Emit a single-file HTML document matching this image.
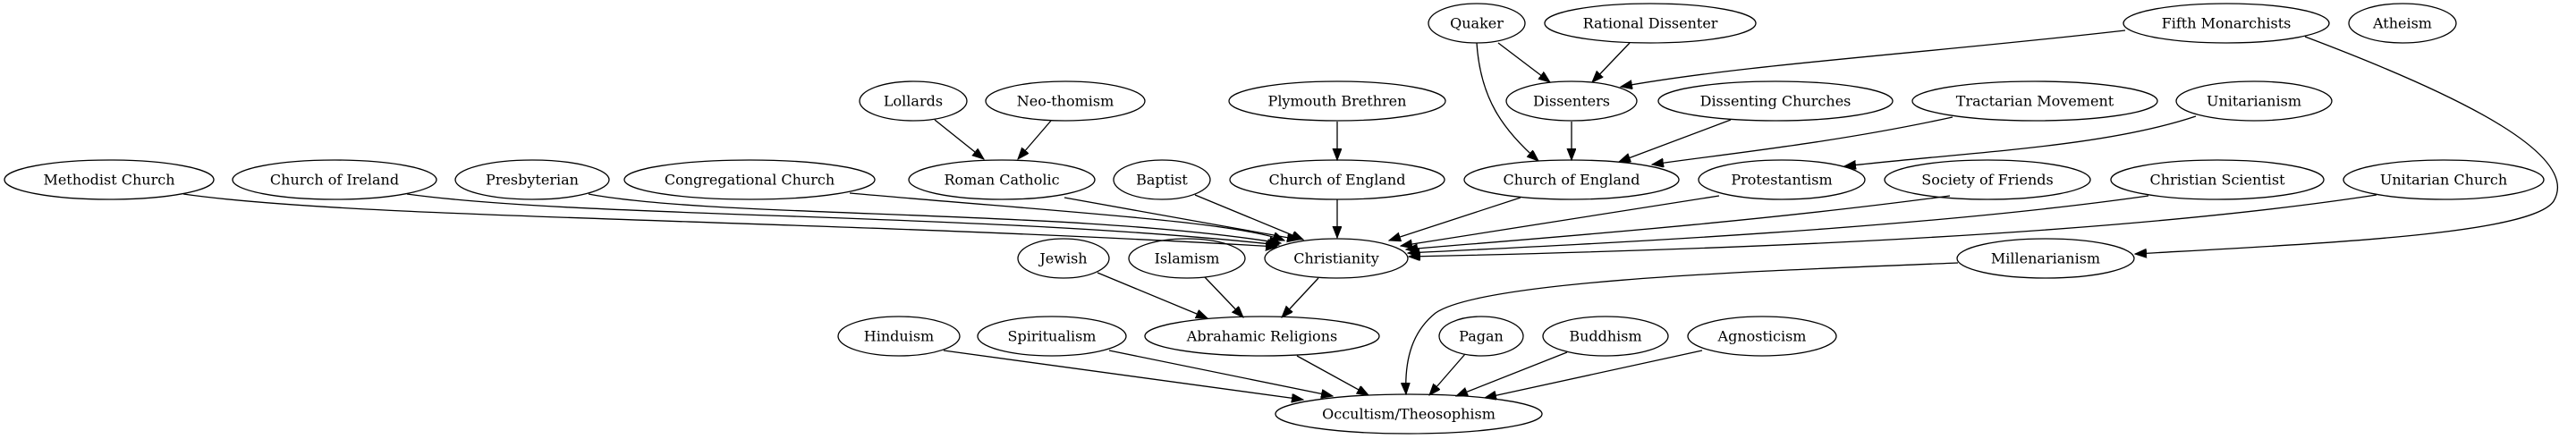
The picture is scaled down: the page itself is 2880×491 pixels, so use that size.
<!DOCTYPE html>
<html><head><meta charset="utf-8"><style>
html,body{margin:0;padding:0;background:#fff;}
svg{display:block;}
text{font-family:"DejaVu Serif","Liberation Serif",serif;font-size:16px;fill:#000;text-anchor:middle;dominant-baseline:central;}
ellipse{fill:none;stroke:#000;stroke-width:1.3;}
path{fill:none;stroke:#000;stroke-width:1.3;}
</style></head><body>
<svg width="2880" height="491" viewBox="0 0 2880 491" xmlns="http://www.w3.org/2000/svg">
<defs>
<marker id="a" markerUnits="userSpaceOnUse" markerWidth="14" markerHeight="12" refX="13" refY="5" orient="auto">
<path d="M0,0 L13,5 L0,10 Z" style="fill:#000;stroke:#000;stroke-width:1"/>
</marker>
</defs>
<g marker-end="url(#a)">
<path d="M205,217 C400,245 900,245 1428,276"/>
<path d="M455,217 C650,244 1100,238 1430,274"/>
<path d="M658,217 C800,244 1200,234 1432,272"/>
<path d="M950,216 C1200,238 1380,248 1436,269"/>
<path d="M1190,221 L1452,268"/>
<path d="M1336,218 L1457,268"/>
<path d="M1495,223 L1495,266"/>
<path d="M1700,221 L1553,269"/>
<path d="M1922,219 L1566,275"/>
<path d="M2180,219 C1950,250 1700,268 1572,279"/>
<path d="M2402,219 C2150,255 1800,272 1574,283"/>
<path d="M2657,218 C2350,265 1900,280 1575,287"/>
<path d="M1045,134 L1100,178"/>
<path d="M1175,135 L1138,178"/>
<path d="M1495,136 L1495,179"/>
<path d="M1757,136 L1757,179"/>
<path d="M1675,48 L1733,92"/>
<path d="M1822,48 L1780,92"/>
<path d="M1651,48 C1655,110 1680,145 1720,180"/>
<path d="M2376,34 C2150,60 1950,72 1812,97"/>
<path d="M2577,41 C2760,110 2885,175 2855,225 C2830,262 2600,272 2387,284"/>
<path d="M1935,134 L1810,181"/>
<path d="M2183,131 C2050,160 1930,172 1847,184"/>
<path d="M2455,130 C2350,165 2200,170 2062,186"/>
<path d="M1227,305 L1350,356"/>
<path d="M1347,310 L1390,355"/>
<path d="M1474,311 L1433,355"/>
<path d="M2189,294 C2000,302 1660,312 1605,350 C1580,370 1570,400 1572,441"/>
<path d="M1055,392 L1457,447"/>
<path d="M1240,392 L1490,443"/>
<path d="M1450,398 L1530,442"/>
<path d="M1638,396 L1598,442"/>
<path d="M1752,394 L1628,443"/>
<path d="M1903,392 L1660,445"/>
</g>
<g>
<ellipse cx="1651" cy="26" rx="54" ry="22"/><text x="1651" y="26">Quaker</text>
<ellipse cx="1845" cy="26" rx="118" ry="22"/><text x="1845" y="26">Rational Dissenter</text>
<ellipse cx="2489" cy="26" rx="115" ry="22"/><text x="2489" y="26">Fifth Monarchists</text>
<ellipse cx="2686" cy="26" rx="60" ry="22"/><text x="2686" y="26">Atheism</text>

<ellipse cx="1021" cy="113" rx="60" ry="22"/><text x="1021" y="113">Lollards</text>
<ellipse cx="1191" cy="113" rx="89" ry="22"/><text x="1191" y="113">Neo-thomism</text>
<ellipse cx="1495" cy="113" rx="121" ry="22"/><text x="1495" y="113">Plymouth Brethren</text>
<ellipse cx="1757" cy="113" rx="73" ry="22"/><text x="1757" y="113">Dissenters</text>
<ellipse cx="1985" cy="113" rx="131" ry="22"/><text x="1985" y="113">Dissenting Churches</text>
<ellipse cx="2275" cy="113" rx="137" ry="22"/><text x="2275" y="113">Tractarian Movement</text>
<ellipse cx="2520" cy="113" rx="87" ry="22"/><text x="2520" y="113">Unitarianism</text>

<ellipse cx="122" cy="201" rx="117" ry="22"/><text x="122" y="201">Methodist Church</text>
<ellipse cx="374" cy="201" rx="114" ry="22"/><text x="374" y="201">Church of Ireland</text>
<ellipse cx="595" cy="201" rx="86" ry="22"/><text x="595" y="201">Presbyterian</text>
<ellipse cx="838" cy="201" rx="140" ry="22"/><text x="838" y="201">Congregational Church</text>
<ellipse cx="1120" cy="201" rx="104" ry="22"/><text x="1120" y="201">Roman Catholic</text>
<ellipse cx="1299" cy="201" rx="54" ry="22"/><text x="1299" y="201">Baptist</text>
<ellipse cx="1495" cy="201" rx="120" ry="22"/><text x="1495" y="201">Church of England</text>
<ellipse cx="1757" cy="201" rx="120" ry="22"/><text x="1757" y="201">Church of England</text>
<ellipse cx="1992" cy="201" rx="93" ry="22"/><text x="1992" y="201">Protestantism</text>
<ellipse cx="2222" cy="201" rx="115" ry="22"/><text x="2222" y="201">Society of Friends</text>
<ellipse cx="2479" cy="201" rx="119" ry="22"/><text x="2479" y="201">Christian Scientist</text>
<ellipse cx="2732" cy="201" rx="112" ry="22"/><text x="2732" y="201">Unitarian Church</text>

<ellipse cx="1189" cy="289" rx="51" ry="22"/><text x="1189" y="289">Jewish</text>
<ellipse cx="1327" cy="289" rx="65" ry="22"/><text x="1327" y="289">Islamism</text>
<ellipse cx="1494" cy="289" rx="80" ry="22"/><text x="1494" y="289">Christianity</text>
<ellipse cx="2287" cy="289" rx="99" ry="22"/><text x="2287" y="289">Millenarianism</text>

<ellipse cx="1005" cy="376" rx="68" ry="22"/><text x="1005" y="376">Hinduism</text>
<ellipse cx="1176" cy="376" rx="83" ry="22"/><text x="1176" y="376">Spiritualism</text>
<ellipse cx="1411" cy="376" rx="131" ry="22"/><text x="1411" y="376">Abrahamic Religions</text>
<ellipse cx="1656" cy="376" rx="47" ry="22"/><text x="1656" y="376">Pagan</text>
<ellipse cx="1795" cy="376" rx="70" ry="22"/><text x="1795" y="376">Buddhism</text>
<ellipse cx="1970" cy="376" rx="83" ry="22"/><text x="1970" y="376">Agnosticism</text>

<ellipse cx="1575" cy="463" rx="149" ry="22"/><text x="1575" y="463">Occultism/Theosophism</text>
</g>
</svg>
</body></html>
